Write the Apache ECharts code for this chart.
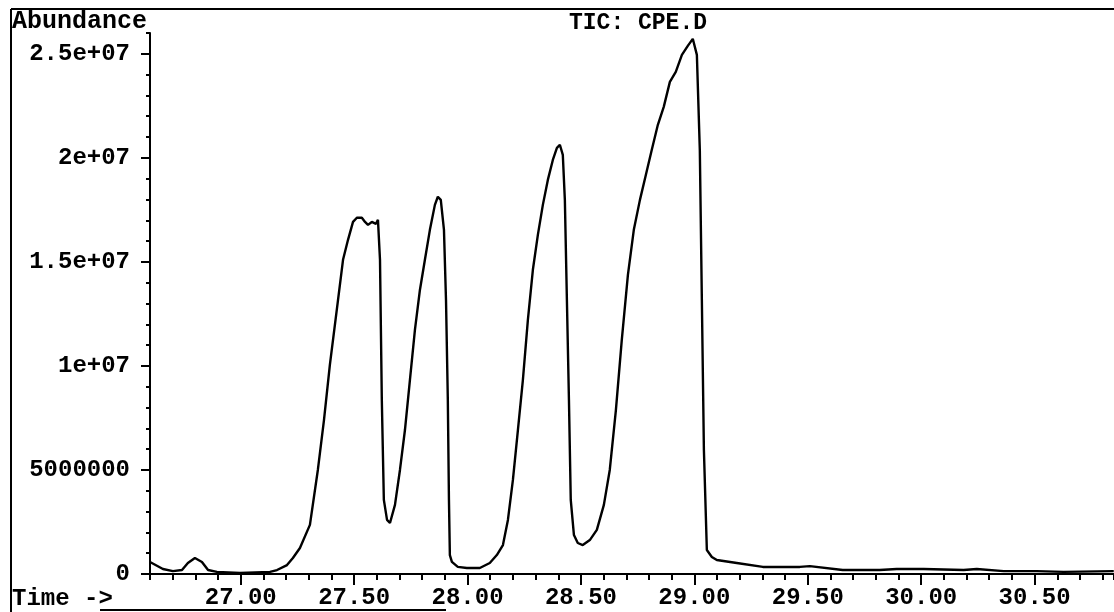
<!DOCTYPE html>
<html>
<head>
<meta charset="utf-8">
<title>TIC: CPE.D</title>
<script src="https://cdn.jsdelivr.net/npm/echarts@6/dist/echarts.min.js"></script>
<style>
  html, body { margin: 0; padding: 0; background: #fff; }
  #chart { width: 1114px; height: 612px; }
</style>
</head>
<body>
<div id="chart"></div>
<script>
// retention time (min)
var times = [
  26.600, 26.657, 26.701, 26.741, 26.767, 26.798, 26.829, 26.856, 26.895, 26.997,
  27.129, 27.160, 27.204, 27.230, 27.261, 27.305, 27.340, 27.367, 27.393, 27.429,
  27.451, 27.473, 27.495, 27.512, 27.534, 27.548, 27.561, 27.578, 27.596, 27.605,
  27.614, 27.622, 27.631, 27.645, 27.658, 27.680, 27.702, 27.724, 27.746, 27.768,
  27.790, 27.812, 27.834, 27.856, 27.869, 27.882, 27.896, 27.905, 27.913, 27.918,
  27.922, 27.931, 27.957, 27.997, 28.054, 28.098, 28.129, 28.156, 28.178, 28.200,
  28.222, 28.244, 28.266, 28.288, 28.310, 28.332, 28.354, 28.376, 28.394, 28.407,
  28.420, 28.429, 28.438, 28.447, 28.455, 28.469, 28.486, 28.508, 28.539, 28.570,
  28.601, 28.627, 28.654, 28.680, 28.707, 28.733, 28.760, 28.786, 28.812, 28.839,
  28.865, 28.892, 28.918, 28.945, 28.971, 28.993, 29.011, 29.024, 29.033, 29.042,
  29.055, 29.077, 29.099, 29.187, 29.302, 29.465, 29.509, 29.654, 29.817, 29.892,
  30.011, 30.187, 30.245, 30.364, 30.509, 30.628, 30.849
];

// abundance at each time
var abundance = [
  580000, 240000, 140000, 190000, 530000, 770000, 580000, 190000, 100000, 50000,
  100000, 190000, 430000, 770000, 1250000, 2360000, 5000000, 7400000, 10050000, 13170000,
  15100000, 16060000, 16920000, 17120000, 17120000, 16920000, 16780000, 16920000, 16830000, 17020000,
  15100000, 8370000, 3560000, 2600000, 2450000, 3320000, 5000000, 6920000, 9330000, 11730000,
  13650000, 15100000, 16540000, 17740000, 18130000, 17980000, 16540000, 13170000, 8370000, 3560000,
  910000, 580000, 340000, 290000, 290000, 530000, 910000, 1390000, 2600000, 4520000,
  6920000, 9330000, 12210000, 14620000, 16300000, 17740000, 18940000, 19900000, 20480000, 20630000,
  20140000, 17980000, 13170000, 8370000, 3560000, 1870000, 1490000, 1390000, 1630000, 2120000,
  3320000, 5000000, 7880000, 11250000, 14380000, 16540000, 17980000, 19180000, 20380000, 21590000,
  22450000, 23650000, 24130000, 24950000, 25380000, 25720000, 24950000, 20380000, 13170000, 5960000,
  1150000, 820000, 670000, 530000, 340000, 340000, 380000, 190000, 190000, 240000,
  240000, 190000, 240000, 140000, 140000, 100000, 140000
];

var timeTicks = [27, 27.5, 28, 28.5, 29, 29.5, 30, 30.5];
var yTicks = [0, 5000000, 10000000, 15000000, 20000000, 25000000];
var yTickLabels = ['0', '5000000', '1e+07', '1.5e+07', '2e+07', '2.5e+07'];

var font = "'Liberation Mono', 'DejaVu Sans Mono', monospace";

var chart = echarts.init(document.getElementById('chart'));

var points = times.map(function (t, i) { return [t, abundance[i]]; });

var option = {
  backgroundColor: '#fff',
  animation: false,
  title: {
    text: 'TIC: CPE.D',
    left: 564,
    top: 7,
    textStyle: { fontFamily: font, fontWeight: 'bold', fontSize: 23, color: '#000' }
  },
  grid: { left: 150, right: 0, top: 33, bottom: 38 },
  xAxis: [
    {
      // minor ticks every 0.1 min
      type: 'value', position: 'bottom',
      min: 26.6, max: 30.85, interval: 0.1,
      axisLine: { lineStyle: { color: '#000', width: 2 } },
      axisTick: { length: 6, lineStyle: { color: '#000', width: 2 } },
      axisLabel: { show: false },
      splitLine: { show: false }
    },
    {
      // major ticks + labels
      type: 'value', position: 'bottom',
      min: 26.6, max: 30.85,
      axisLine: { show: false },
      axisTick: { show: true, length: 11, customValues: timeTicks, lineStyle: { color: '#000', width: 2 } },
      axisLabel: {
        customValues: timeTicks, margin: 12,
        fontFamily: font, fontWeight: 'bold', fontSize: 24, color: '#000',
        formatter: function (v) { return v.toFixed(2); }
      },
      splitLine: { show: false }
    }
  ],
  yAxis: [
    {
      type: 'value', position: 'left',
      min: 0, max: 26000000, interval: 1000000,
      axisLine: { show: true, lineStyle: { color: '#000', width: 2 } },
      axisTick: { show: true, length: 4, lineStyle: { color: '#000', width: 2 } },
      axisLabel: { show: false },
      splitLine: { show: false }
    },
    {
      type: 'value', position: 'left',
      min: 0, max: 26000000,
      axisLine: { show: false },
      axisTick: { show: true, length: 9, customValues: yTicks, lineStyle: { color: '#000', width: 2 } },
      axisLabel: {
        customValues: yTicks, margin: 20,
        fontFamily: font, fontWeight: 'bold', fontSize: 24, color: '#000',
        formatter: function (v) { return yTickLabels[yTicks.indexOf(v)]; }
      },
      splitLine: { show: false }
    }
  ],
  graphic: [
    { type: 'line', shape: { x1: 11, y1: 9, x2: 1114, y2: 9 }, style: { stroke: '#000', lineWidth: 2 } },
    { type: 'line', shape: { x1: 11, y1: 9, x2: 11, y2: 612 }, style: { stroke: '#000', lineWidth: 2 } },
    { type: 'line', shape: { x1: 100, y1: 610, x2: 446, y2: 610 }, style: { stroke: '#000', lineWidth: 2 } },
    { type: 'text', left: 12, top: 9, style: { text: 'Abundance', font: 'bold 25px ' + font, fill: '#000' } },
    { type: 'text', left: 12, top: 587, style: { text: 'Time ->', font: 'bold 24px ' + font, fill: '#000' } }
  ],
  series: [{
    type: 'line',
    xAxisIndex: 0,
    yAxisIndex: 0,
    data: points,
    showSymbol: false,
    lineStyle: { color: '#000', width: 2.4 }
  }]
};

chart.setOption(option);
</script>
</body>
</html>
